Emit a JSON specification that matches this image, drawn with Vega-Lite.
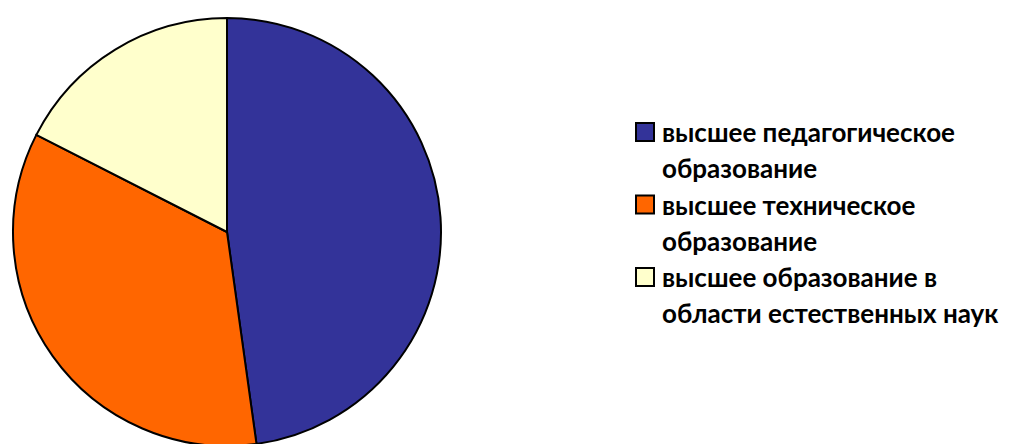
{
  "$schema": "https://vega.github.io/schema/vega-lite/v6.json",
  "width": 454,
  "height": 430,
  "padding": {"top": 14, "left": 0, "right": 0, "bottom": 0},
  "autosize": {"type": "pad"},
  "background": "white",
  "config": {"view": {"stroke": null}},
  "data": {"values": [
    {"category": "высшее педагогическое образование", "order": 1, "value": 47.8},
    {"category": "высшее техническое образование", "order": 2, "value": 34.7},
    {"category": "высшее образование в области естественных наук", "order": 3, "value": 17.5}
  ]},
  "mark": {"type": "arc", "outerRadius": 214, "stroke": "black", "strokeWidth": 2},
  "encoding": {
    "theta": {"field": "value", "type": "quantitative", "stack": true},
    "order": {"field": "order", "type": "quantitative"},
    "color": {
      "field": "category",
      "type": "nominal",
      "sort": ["высшее педагогическое образование", "высшее техническое образование", "высшее образование в области естественных наук"],
      "scale": {
        "domain": ["высшее педагогическое образование", "высшее техническое образование", "высшее образование в области естественных наук"],
        "range": ["#333399", "#FF6600", "#FFFFCC"]
      },
      "legend": {
        "orient": "none",
        "legendX": 628,
        "legendY": 102,
        "title": null,
        "symbolType": "square",
        "symbolSize": 324,
        "symbolStrokeColor": "black",
        "symbolStrokeWidth": 2,
        "symbolOpacity": 1,
        "symbolOffset": 4,
        "labelFont": "Lato",
        "labelFontWeight": "bold",
        "labelFontSize": 26,
        "labelColor": "black",
        "labelLimit": 0,
        "labelBaseline": "top",
        "labelOffset": 4,
        "rowPadding": 8.5,
        "labelExpr": "datum.label == 'высшее педагогическое образование' ? ['высшее педагогическое', 'образование'] : datum.label == 'высшее техническое образование' ? ['высшее техническое', 'образование'] : ['высшее образование в', 'области естественных наук']",
        "encode": {"labels": {"update": {"dy": {"value": -11}, "lineHeight": {"value": 36}}}}
      }
    }
  }
}
